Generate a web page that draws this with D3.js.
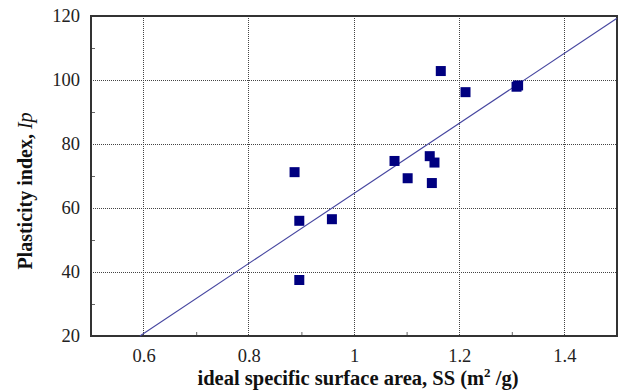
<!DOCTYPE html>
<html>
<head>
<meta charset="utf-8">
<script src="https://cdn.jsdelivr.net/npm/d3@7"></script>
<style>
	body { margin: 0; background: #fff; }
	svg { display: block; font-family: "Liberation Serif", "Times New Roman", serif; }
</style>
</head>
<body>
<div id="chart"></div>
<script>
// Measured points: ideal specific surface area SS (m2/g) vs plasticity index Ip
var ssValues = [0.887, 0.896, 0.896, 0.958, 1.077, 1.102, 1.144, 1.153, 1.148, 1.165, 1.212, 1.309, 1.312];
var ipValues = [71.2, 56.0, 37.5, 56.5, 74.7, 69.3, 76.2, 74.2, 67.8, 102.8, 96.2, 97.9, 98.3];
// Fitted line end points
var fitX = [0.593, 1.5];
var fitY = [20, 119.3];
// Tick values
var xTicks = [0.6, 0.8, 1, 1.2, 1.4];
var xMinor = [0.7, 0.9, 1.1, 1.3];
var yTicks = [20, 40, 60, 80, 100, 120];
var yMinor = [30, 50, 70, 90, 110];

var width = 620;
var height = 391;
var margin = {top: 16, right: 3, bottom: 55, left: 91};
var w = width - margin.left - margin.right;
var h = height - margin.top - margin.bottom;

var svg = d3.select("#chart").append("svg")
	.attr("width", width)
	.attr("height", height);

var g = svg.append("g")
	.attr("transform", "translate(" + margin.left + "," + margin.top + ")");

// Scales
var x = d3.scaleLinear().domain([0.5, 1.5]).range([0, w]);
var y = d3.scaleLinear().domain([20, 120]).range([h, 0]);

// Grid lines
g.append("g")
	.attr("class", "grid")
	.selectAll("line.gx")
	.data(xTicks)
	.enter().append("line")
	.attr("x1", function(d){ return x(d); })
	.attr("x2", function(d){ return x(d); })
	.attr("y1", 0)
	.attr("y2", h);
g.select(".grid")
	.selectAll("line.gy")
	.data(yTicks.slice(1, -1))
	.enter().append("line")
	.attr("x1", 0)
	.attr("x2", w)
	.attr("y1", function(d){ return y(d); })
	.attr("y2", function(d){ return y(d); });
g.selectAll(".grid line")
	.attr("stroke", "#444")
	.attr("stroke-width", 1)
	.attr("stroke-dasharray", "1,1")
	.attr("shape-rendering", "crispEdges");

// Minor ticks pointing into the plot
var xMinorAxis = g.append("g")
	.attr("transform", "translate(0," + h + ")")
	.call(d3.axisBottom(x).tickValues(xMinor).tickSize(-4).tickFormat(""));
var yMinorAxis = g.append("g")
	.call(d3.axisLeft(y).tickValues(yMinor).tickSize(-4).tickFormat(""));
[xMinorAxis, yMinorAxis].forEach(function(a){
	a.select(".domain").remove();
	a.selectAll(".tick line").attr("stroke", "#666");
});

// Tick labels
var xAxis = g.append("g")
	.attr("transform", "translate(0," + h + ")")
	.call(d3.axisBottom(x).tickValues(xTicks).tickSize(0).tickPadding(13).tickFormat(d3.format("")));
var yAxis = g.append("g")
	.call(d3.axisLeft(y).tickValues(yTicks).tickSize(0).tickPadding(11).tickFormat(d3.format("")));
[xAxis, yAxis].forEach(function(a){
	a.select(".domain").remove();
	a.selectAll("text")
		.attr("font-family", "'Liberation Serif', serif")
		.attr("font-size", "18.5px")
		.attr("fill", "#222");
});

// Frame
g.append("rect")
	.attr("x", 0)
	.attr("y", 0)
	.attr("width", w)
	.attr("height", h)
	.attr("fill", "none")
	.attr("stroke", "#333")
	.attr("stroke-width", 1.2)
	.attr("shape-rendering", "crispEdges");

// Fitted line
var fit = fitX.map(function(d, i){ return [d, fitY[i]]; });
g.append("path")
	.datum(fit)
	.attr("d", d3.line().x(function(d){ return x(d[0]); }).y(function(d){ return y(d[1]); }))
	.attr("fill", "none")
	.attr("stroke", "#4646a0")
	.attr("stroke-width", 1.1);

// Data squares
var pts = ssValues.map(function(d, i){ return {ss: d, ip: ipValues[i]}; });
var sq = 10;
g.selectAll("rect.pt")
	.data(pts)
	.enter().append("rect")
	.attr("class", "pt")
	.attr("x", function(d){ return x(d.ss) - sq / 2; })
	.attr("y", function(d){ return y(d.ip) - sq / 2; })
	.attr("width", sq)
	.attr("height", sq)
	.attr("fill", "#000080");

// Axis titles
svg.append("text")
	.attr("x", margin.left + w / 2 + 4)
	.attr("y", 385)
	.attr("text-anchor", "middle")
	.attr("font-size", "20.5px")
	.attr("font-weight", "bold")
	.attr("fill", "#111")
	.html("ideal specific surface area, SS (m<tspan font-size='13px' dy='-8'>2</tspan><tspan dy='8'> /g)</tspan>");

svg.append("text")
	.attr("transform", "translate(32," + (margin.top + h / 2 + 15) + ") rotate(-90)")
	.attr("text-anchor", "middle")
	.attr("font-size", "20px")
	.attr("font-weight", "bold")
	.attr("fill", "#111")
	.html("Plasticity index, <tspan font-style='italic' font-weight='normal'>Ip</tspan>");
</script>
</body>
</html>
